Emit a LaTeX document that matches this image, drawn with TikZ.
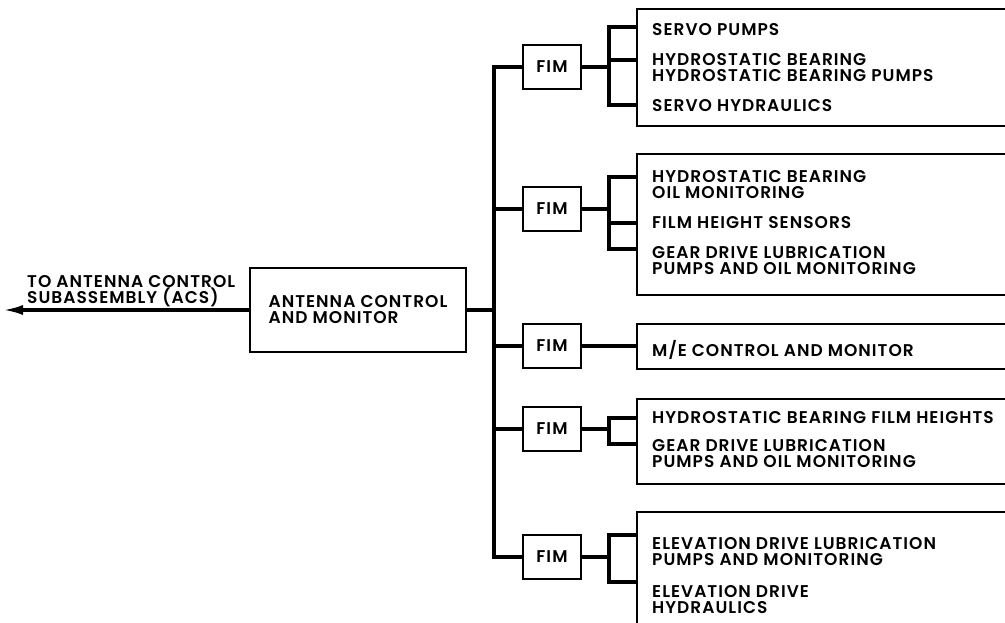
\documentclass[tikz,border=0pt]{standalone}
\usepackage{fontspec}
\setmainfont{Poppins SemiBold}[LetterSpace=6]
\usetikzlibrary{arrows.meta,positioning,calc}

\begin{document}
\begin{tikzpicture}[
  x=1pt, y=-1pt,
  lbl/.style={font=\fontsize{17}{16}\selectfont, align=left, inner sep=0pt},
  box/.style={draw, line width=2.1pt, inner sep=0pt},
  fim/.style={box, minimum width=58pt, minimum height=44pt, font=\fontsize{17}{16}\selectfont},
  item/.style={lbl, anchor=north west},
  conn/.style={line width=3.2pt}
]
\clip (0,0) rectangle (1005,623);

% control and monitor block, link to ACS
\node[box, lbl, minimum width=216pt, minimum height=84pt] (acm) at (358,310) {ANTENNA CONTROL\\AND MONITOR};
\node[lbl, anchor=west] (acs) at (27,291) {TO ANTENNA CONTROL\\SUBASSEMBLY (ACS)};
\coordinate (tip) at (3,0);
\draw[conn, -{Latex[length=20pt,width=10pt]}] (acm.west) -- (acm.west -| tip);

% FIM units on the bus
\foreach \n/\y in {1/67,2/209,3/346,4/429,5/557}
  \node[fim] (fim\n) at (552,\y) {FIM};
\coordinate (bus) at (494,0);
\draw[conn] (fim1.west) -- (fim1.west -| bus) -- (fim5.west -| bus) -- (fim5.west);
\draw[conn] (acm.east) -- (acm.east -| bus);
\foreach \n in {2,3,4}
  \draw[conn] (fim\n.west) -- (fim\n.west -| bus);

% monitored equipment blocks
\foreach \n/\t/\h in {1/8/117,2/153/141,3/323/45,4/398/85,5/511/140}
  \node[box, anchor=north west, minimum width=400pt, minimum height=\h pt] (blk\n) at (636,\t) {};

\node[item] (i1a) at (652,23) {SERVO PUMPS};
\node[item] (i1b) at (652,53) {HYDROSTATIC BEARING\\HYDROSTATIC BEARING PUMPS};
\node[item] (i1c) at (652,99) {SERVO HYDRAULICS};
\node[item] (i2a) at (652,170) {HYDROSTATIC BEARING\\OIL MONITORING};
\node[item] (i2b) at (652,216) {FILM HEIGHT SENSORS};
\node[item] (i2c) at (652,246) {GEAR DRIVE LUBRICATION\\PUMPS AND OIL MONITORING};
\node[item] (i3a) at (652,340) {M/E CONTROL AND MONITOR};
\node[item] (i4a) at (652,411) {HYDROSTATIC BEARING FILM HEIGHTS};
\node[item] (i4b) at (652,439) {GEAR DRIVE LUBRICATION\\PUMPS AND OIL MONITORING};
\node[item] (i5a) at (652,537) {ELEVATION DRIVE LUBRICATION\\PUMPS AND MONITORING};
\node[item] (i5b) at (652,585) {ELEVATION DRIVE\\HYDRAULICS};

% brackets
\coordinate (brk) at (609,0);
\foreach \k/\y in {1a/27,1b/60,1c/105,2a/177,2b/223,2c/249,4a/418,4b/444,5a/535,5b/582}
  \coordinate (t\k) at (636,\y);
\draw[conn] (t1a) -- (t1a -| brk) -- (t1c -| brk) -- (t1c);
\draw[conn] (t1b) -- (t1b -| brk);
\draw[conn] (fim1.east) -- (fim1.east -| brk);
\draw[conn] (t2a) -- (t2a -| brk) -- (t2c -| brk) -- (t2c);
\draw[conn] (t2b) -- (t2b -| brk);
\draw[conn] (fim2.east) -- (fim2.east -| brk);
\draw[conn] (fim3.east) -- (fim3.east -| blk3.west);
\draw[conn] (t4a) -- (t4a -| brk) -- (t4b -| brk) -- (t4b);
\draw[conn] (fim4.east) -- (fim4.east -| brk);
\draw[conn] (t5a) -- (t5a -| brk) -- (t5b -| brk) -- (t5b);
\draw[conn] (fim5.east) -- (fim5.east -| brk);
\end{tikzpicture}
\end{document}
